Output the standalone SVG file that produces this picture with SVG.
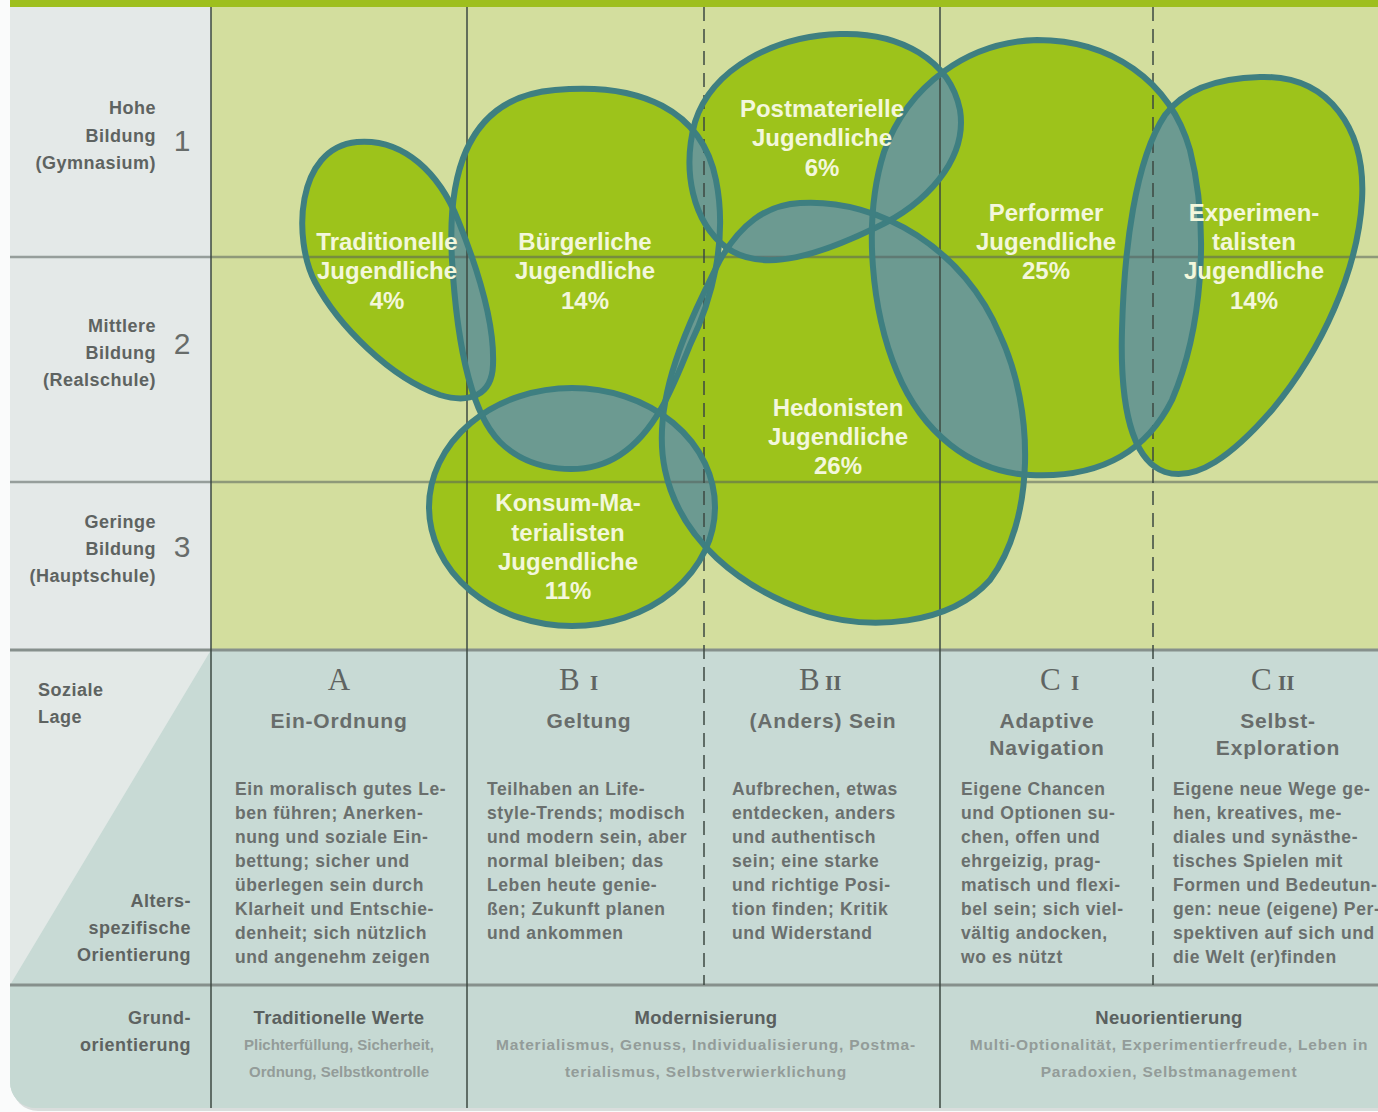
<svg xmlns="http://www.w3.org/2000/svg" xmlns:xlink="http://www.w3.org/1999/xlink" width="1378" height="1112" viewBox="0 0 1378 1112">
<style>
.lab{font-family:"Liberation Sans",Arial,sans-serif;font-weight:bold;font-size:18px;fill:#5e6361;letter-spacing:0.5px}
.num{font-family:"Liberation Sans",Arial,sans-serif;font-size:30px;fill:#676c6a}
.blob{fill:#9dc31b}
.ov{fill:#6c9a91}
.out{fill:none;stroke:#3e7f81;stroke-width:6}
.bl{font-family:"Liberation Sans",Arial,sans-serif;font-weight:bold;font-size:24px;fill:#f3f7dc;text-anchor:middle}
.hd{font-family:"Liberation Serif","Times New Roman",serif;font-size:31px;fill:#5f6462}
.sc{font-size:21px;font-weight:bold}
.sub{font-family:"Liberation Sans",Arial,sans-serif;font-weight:bold;font-size:21px;fill:#686d6b;text-anchor:middle;letter-spacing:0.8px}
.body{font-family:"Liberation Sans",Arial,sans-serif;font-weight:bold;font-size:17.5px;fill:#6a6f6d;letter-spacing:0.6px}
.gh{font-family:"Liberation Sans",Arial,sans-serif;font-weight:bold;font-size:18.5px;fill:#5a605e;text-anchor:middle;letter-spacing:0.3px}
.gs{font-family:"Liberation Sans",Arial,sans-serif;font-weight:bold;font-size:15.5px;fill:#939c99;text-anchor:middle;letter-spacing:0.8px}
.gsa{font-size:15px;letter-spacing:0}
.hl{stroke:#56615b;stroke-opacity:0.55;stroke-width:2.5}
.hl2{stroke:#86908c;stroke-width:3}
.vl{stroke:#3d4842;stroke-width:1.5}
.dl{stroke:#3d4842;stroke-width:1.5;stroke-dasharray:14 8}
</style>
<defs>
<path id="p-trad" d="M 357,142 C 405,138 440,175 458,220 C 475,262 495,320 493,365 C 492,395 470,404 440,395 C 390,378 338,325 315,282 C 293,240 295,148 357,142 Z"/>
<path id="p-burg" d="M 555,90 C 640,82 702,110 716,180 C 728,240 712,300 690,345 C 672,390 655,432 620,455 C 585,478 530,472 500,442 C 468,410 456,330 452,260 C 448,190 458,98 555,90 Z"/>
<path id="p-post" d="M 840,34 C 900,32 950,60 960,110 C 968,160 925,205 875,228 C 825,252 765,275 727,248 C 692,222 682,170 695,122 C 712,68 775,36 840,34 Z"/>
<path id="p-hed" d="M 800,203 C 880,198 965,250 1000,335 C 1035,410 1035,520 990,580 C 950,625 870,632 810,612 C 740,588 680,540 665,470 C 650,400 690,320 720,260 C 740,225 765,205 800,203 Z"/>
<ellipse id="p-kons" cx="572" cy="507" rx="143" ry="119"/>
<path id="p-perf" d="M 1037,40 C 1110,40 1170,80 1190,150 C 1210,230 1202,330 1172,400 C 1142,460 1090,478 1030,475 C 970,472 922,432 897,372 C 872,312 862,222 884,152 C 908,85 968,42 1037,40 Z"/>
<path id="p-exp" d="M 1260,77 C 1330,75 1366,130 1362,200 C 1358,270 1322,350 1272,410 C 1232,456 1196,482 1165,472 C 1130,460 1120,400 1122,330 C 1124,250 1135,160 1165,115 C 1185,88 1220,78 1260,77 Z"/>
<clipPath id="c-burg"><use href="#p-burg"/></clipPath>
<clipPath id="c-kons"><use href="#p-kons"/></clipPath>
<clipPath id="c-hed"><use href="#p-hed"/></clipPath>
<clipPath id="c-post"><use href="#p-post"/></clipPath>
<clipPath id="c-perf"><use href="#p-perf"/></clipPath>
<clipPath id="c-exp"><use href="#p-exp"/></clipPath>
<clipPath id="panel"><path d="M10,0 H1400 V1108 H36 A26,26 0 0 1 10,1082 Z"/></clipPath>
</defs>

<rect width="1378" height="1112" fill="#fafbfb"/>
<path d="M12,0 H1400 V1111 H38 A26,26 0 0 1 12,1085 Z" fill="#d9dddc"/>

<g id="background" clip-path="url(#panel)">
  <rect x="10" y="0" width="1368" height="1110" fill="#c8dad5"/>
  <rect x="10" y="0" width="1368" height="7" fill="#9ebf1e"/>
  <rect x="10" y="7" width="201" height="643" fill="#e4e9e8"/>
  <rect x="211" y="7" width="1167" height="643" fill="#d3de9e"/>
  <polygon points="10,650 211,650 10,985" fill="#e3e9e7"/>
  <rect x="10" y="985" width="1368" height="125" fill="#c6d9d3"/>
</g>

<g id="nodes">
  <g id="traditionelle"><use href="#p-trad" class="blob"/></g>
  <g id="buergerliche"><use href="#p-burg" class="blob"/></g>
  <g id="postmaterielle"><use href="#p-post" class="blob"/></g>
  <g id="hedonisten"><use href="#p-hed" class="blob"/></g>
  <g id="konsum-materialisten"><use href="#p-kons" class="blob"/></g>
  <g id="performer"><use href="#p-perf" class="blob"/></g>
  <g id="experimentalisten"><use href="#p-exp" class="blob"/></g>
</g>

<g id="overlaps">
  <use href="#p-trad" class="ov" clip-path="url(#c-burg)"/>
  <use href="#p-burg" class="ov" clip-path="url(#c-kons)"/>
  <use href="#p-burg" class="ov" clip-path="url(#c-hed)"/>
  <use href="#p-burg" class="ov" clip-path="url(#c-post)"/>
  <use href="#p-post" class="ov" clip-path="url(#c-hed)"/>
  <use href="#p-post" class="ov" clip-path="url(#c-perf)"/>
  <use href="#p-hed" class="ov" clip-path="url(#c-kons)"/>
  <use href="#p-hed" class="ov" clip-path="url(#c-perf)"/>
  <use href="#p-perf" class="ov" clip-path="url(#c-exp)"/>
</g>

<g id="grid" clip-path="url(#panel)">
  <line x1="10" y1="257" x2="1378" y2="257" class="hl"/>
  <line x1="10" y1="482" x2="1378" y2="482" class="hl"/>
  <line x1="10" y1="650" x2="1378" y2="650" class="hl2"/>
  <line x1="10" y1="985" x2="1378" y2="985" class="hl2"/>
  <line x1="211" y1="7" x2="211" y2="1110" class="vl"/>
  <line x1="467" y1="7" x2="467" y2="1110" class="vl"/>
  <line x1="940" y1="7" x2="940" y2="1110" class="vl"/>
  <line x1="704" y1="7" x2="704" y2="985" class="dl"/>
  <line x1="1153" y1="7" x2="1153" y2="985" class="dl"/>
</g>

<g id="outlines">
  <use href="#p-trad" class="out"/>
  <use href="#p-burg" class="out"/>
  <use href="#p-post" class="out"/>
  <use href="#p-hed" class="out"/>
  <use href="#p-kons" class="out"/>
  <use href="#p-perf" class="out"/>
  <use href="#p-exp" class="out"/>
</g>

<g id="blob-labels">
  <text id="label-traditionelle" class="bl"><tspan x="387" y="250">Traditionelle</tspan><tspan x="387" y="279">Jugendliche</tspan><tspan x="387" y="309">4%</tspan></text>
  <text id="label-buergerliche" class="bl"><tspan x="585" y="250">Bürgerliche</tspan><tspan x="585" y="279">Jugendliche</tspan><tspan x="585" y="309">14%</tspan></text>
  <text id="label-postmaterielle" class="bl"><tspan x="822" y="117">Postmaterielle</tspan><tspan x="822" y="146">Jugendliche</tspan><tspan x="822" y="176">6%</tspan></text>
  <text id="label-performer" class="bl"><tspan x="1046" y="221">Performer</tspan><tspan x="1046" y="250">Jugendliche</tspan><tspan x="1046" y="279">25%</tspan></text>
  <text id="label-experimentalisten" class="bl"><tspan x="1254" y="221">Experimen-</tspan><tspan x="1254" y="250">talisten</tspan><tspan x="1254" y="279">Jugendliche</tspan><tspan x="1254" y="309">14%</tspan></text>
  <text id="label-hedonisten" class="bl"><tspan x="838" y="416">Hedonisten</tspan><tspan x="838" y="445">Jugendliche</tspan><tspan x="838" y="474">26%</tspan></text>
  <text id="label-konsum" class="bl"><tspan x="568" y="511">Konsum-Ma-</tspan><tspan x="568" y="541">terialisten</tspan><tspan x="568" y="570">Jugendliche</tspan><tspan x="568" y="599">11%</tspan></text>
</g>

<g id="row-labels">
  <text class="lab" text-anchor="end"><tspan x="156" y="114">Hohe</tspan><tspan x="156" y="142">Bildung</tspan><tspan x="156" y="169">(Gymnasium)</tspan></text>
  <text class="num" x="182" y="151" text-anchor="middle">1</text>
  <text class="lab" text-anchor="end"><tspan x="156" y="332">Mittlere</tspan><tspan x="156" y="359">Bildung</tspan><tspan x="156" y="386">(Realschule)</tspan></text>
  <text class="num" x="182" y="354" text-anchor="middle">2</text>
  <text class="lab" text-anchor="end"><tspan x="156" y="528">Geringe</tspan><tspan x="156" y="555">Bildung</tspan><tspan x="156" y="582">(Hauptschule)</tspan></text>
  <text class="num" x="182" y="557" text-anchor="middle">3</text>
  <text class="lab"><tspan x="38" y="696">Soziale</tspan><tspan x="38" y="723">Lage</tspan></text>
  <text class="lab" text-anchor="end"><tspan x="191" y="907">Alters-</tspan><tspan x="191" y="934">spezifische</tspan><tspan x="191" y="961">Orientierung</tspan></text>
  <text class="lab" text-anchor="end"><tspan x="191" y="1024">Grund-</tspan><tspan x="191" y="1051">orientierung</tspan></text>
</g>

<g id="column-heads">
  <text class="hd" x="339" y="690" text-anchor="middle">A</text>
  <text class="hd"><tspan x="559" y="690">B</tspan><tspan class="sc" x="590" y="690">I</tspan></text>
  <text class="hd"><tspan x="799" y="690">B</tspan><tspan class="sc" x="825" y="690">II</tspan></text>
  <text class="hd"><tspan x="1040" y="690">C</tspan><tspan class="sc" x="1071" y="690">I</tspan></text>
  <text class="hd"><tspan x="1251" y="690">C</tspan><tspan class="sc" x="1278" y="690">II</tspan></text>
  <text class="sub" x="339" y="728">Ein-Ordnung</text>
  <text class="sub" x="589" y="728">Geltung</text>
  <text class="sub" x="823" y="728">(Anders) Sein</text>
  <text class="sub"><tspan x="1047" y="728">Adaptive</tspan><tspan x="1047" y="755">Navigation</tspan></text>
  <text class="sub"><tspan x="1278" y="728">Selbst-</tspan><tspan x="1278" y="755">Exploration</tspan></text>
</g>

<g id="column-texts">
  <text class="body"><tspan x="235" y="795">Ein moralisch gutes Le-</tspan><tspan x="235" y="819">ben führen; Anerken-</tspan><tspan x="235" y="843">nung und soziale Ein-</tspan><tspan x="235" y="867">bettung; sicher und</tspan><tspan x="235" y="891">überlegen sein durch</tspan><tspan x="235" y="915">Klarheit und Entschie-</tspan><tspan x="235" y="939">denheit; sich nützlich</tspan><tspan x="235" y="963">und angenehm zeigen</tspan></text>
  <text class="body"><tspan x="487" y="795">Teilhaben an Life-</tspan><tspan x="487" y="819">style-Trends; modisch</tspan><tspan x="487" y="843">und modern sein, aber</tspan><tspan x="487" y="867">normal bleiben; das</tspan><tspan x="487" y="891">Leben heute genie-</tspan><tspan x="487" y="915">ßen; Zukunft planen</tspan><tspan x="487" y="939">und ankommen</tspan></text>
  <text class="body"><tspan x="732" y="795">Aufbrechen, etwas</tspan><tspan x="732" y="819">entdecken, anders</tspan><tspan x="732" y="843">und authentisch</tspan><tspan x="732" y="867">sein; eine starke</tspan><tspan x="732" y="891">und richtige Posi-</tspan><tspan x="732" y="915">tion finden; Kritik</tspan><tspan x="732" y="939">und Widerstand</tspan></text>
  <text class="body"><tspan x="961" y="795">Eigene Chancen</tspan><tspan x="961" y="819">und Optionen su-</tspan><tspan x="961" y="843">chen, offen und</tspan><tspan x="961" y="867">ehrgeizig, prag-</tspan><tspan x="961" y="891">matisch und flexi-</tspan><tspan x="961" y="915">bel sein; sich viel-</tspan><tspan x="961" y="939">vältig andocken,</tspan><tspan x="961" y="963">wo es nützt</tspan></text>
  <text class="body"><tspan x="1173" y="795">Eigene neue Wege ge-</tspan><tspan x="1173" y="819">hen, kreatives, me-</tspan><tspan x="1173" y="843">diales und synästhe-</tspan><tspan x="1173" y="867">tisches Spielen mit</tspan><tspan x="1173" y="891">Formen und Bedeutun-</tspan><tspan x="1173" y="915">gen: neue (eigene) Per-</tspan><tspan x="1173" y="939">spektiven auf sich und</tspan><tspan x="1173" y="963">die Welt (er)finden</tspan></text>
</g>

<g id="grundorientierung">
  <text class="gh" x="339" y="1024">Traditionelle Werte</text>
  <text class="gs gsa"><tspan x="339" y="1050">Plichterfüllung, Sicherheit,</tspan><tspan x="339" y="1077">Ordnung, Selbstkontrolle</tspan></text>
  <text class="gh" x="706" y="1024">Modernisierung</text>
  <text class="gs"><tspan x="706" y="1050">Materialismus, Genuss, Individualisierung, Postma-</tspan><tspan x="706" y="1077">terialismus, Selbstverwierklichung</tspan></text>
  <text class="gh" x="1169" y="1024">Neuorientierung</text>
  <text class="gs"><tspan x="1169" y="1050">Multi-Optionalität, Experimentierfreude, Leben in</tspan><tspan x="1169" y="1077">Paradoxien, Selbstmanagement</tspan></text>
</g>
</svg>
